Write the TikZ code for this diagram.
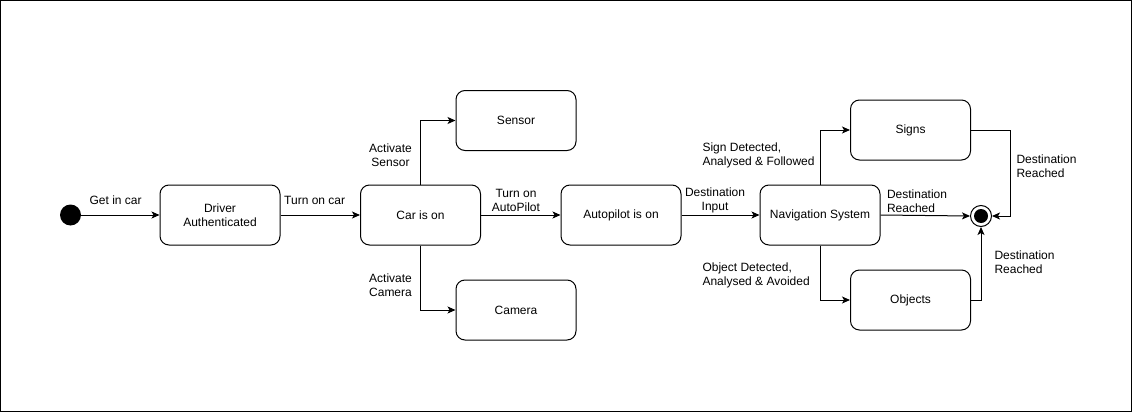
\documentclass[tikz,border=0pt]{standalone}
\usepackage{fontspec}
\setmainfont{Liberation Sans}
\usetikzlibrary{arrows.meta}
\begin{document}
\begin{tikzpicture}[x=1pt,y=-1pt,
  every node/.style={font=\fontsize{12}{14}\selectfont},
  statebox/.style={draw, line width=1pt, rounded corners=9pt, minimum width=120pt, minimum height=60pt, align=center, inner sep=2pt},
  conn/.style={line width=1pt, -{Stealth[length=8pt,width=7pt,inset=2pt]}},
  lbl/.style={inner sep=0pt, align=center},
  lbll/.style={inner sep=0pt, align=left}]
\useasboundingbox (0,0) rectangle (1132,412);
\draw[line width=1pt] (0.5,0.5) rectangle (1131.5,411.5);

\node[circle, fill=black, minimum size=21pt, inner sep=0pt] (init) at (70.5,215) {};
\node[statebox] (driver) at (220,215) {Driver\\Authenticated};
\node[statebox] (car) at (420.5,215) {Car is on};
\node[statebox] (sensor) at (516,120.5) {Sensor};
\node[statebox] (camera) at (516,310) {Camera};
\node[statebox] (auto) at (621,215) {Autopilot is on};
\node[statebox] (nav) at (820,215) {Navigation System};
\node[statebox] (signs) at (910.5,130) {Signs};
\node[statebox] (objects) at (910.5,300) {Objects};
\node[circle, draw, line width=1pt, minimum size=21pt, inner sep=0pt,
  path picture={\fill (path picture bounding box.center) circle (7pt);}] (fin) at (981,216) {};
\coordinate (sc) at (1010,130);

\draw[conn] (init) -- (driver) node[lbl, pos=0.44, yshift=15pt] {Get in car};
\draw[conn] (driver) -- (car) node[lbl, pos=0.43, yshift=15pt] {Turn on car};
\draw[conn] (car.north) |- (sensor.west) node[lbl, pos=0.23, xshift=-30pt] {Activate\\Sensor};
\draw[conn] (car.south) |- (camera.west) node[lbl, pos=0.31, xshift=-30pt] {Activate\\Camera};
\draw[conn] (car) -- (auto) node[lbl, pos=0.44, yshift=15pt] {Turn on\\AutoPilot};
\draw[conn] (auto) -- (nav) node[lbl, pos=0.43, yshift=15pt] {Destination\\Input};
\draw[conn] (nav.north) |- (signs.west) node[lbll, anchor=west, pos=0.27, xshift=-118pt] {Sign Detected,\\Analysed \& Followed};
\draw[conn] (nav.south) |- (objects.west) node[lbll, anchor=west, pos=0.27, xshift=-118pt] {Object Detected,\\Analysed \& Avoided};
\draw[conn] (nav.east) -- (fin.west) node[lbll, anchor=west, pos=0, xshift=6pt, yshift=14pt] {Destination\\Reached};
\draw[conn] (signs.east) -- (sc) |- (fin.east) node[lbll, anchor=west, pos=0.21, xshift=6pt] {Destination\\Reached};
\draw[conn] (objects.east) -| (fin.south) node[lbll, anchor=west, pos=0.76, xshift=13pt] {Destination\\Reached};
\end{tikzpicture}
\end{document}
